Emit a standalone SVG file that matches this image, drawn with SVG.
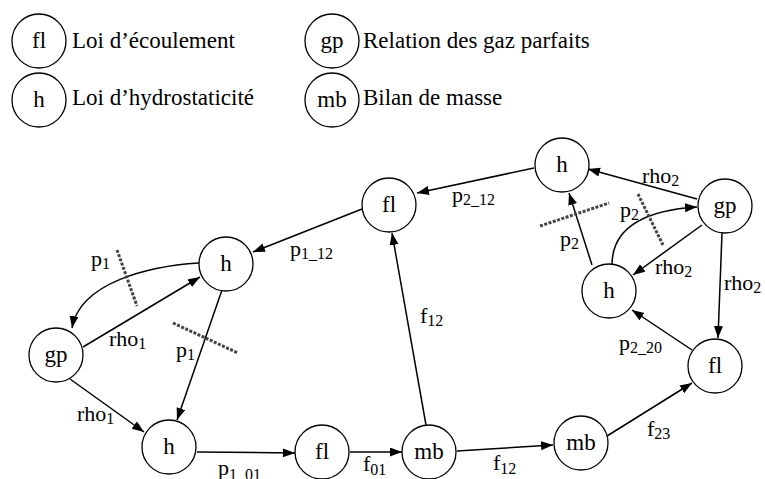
<svg xmlns="http://www.w3.org/2000/svg" width="765" height="479" viewBox="0 0 765 479" font-family="'Liberation Serif', 'Times New Roman', 'DejaVu Serif', serif">
<defs>
<marker id="ah" markerWidth="13" markerHeight="10" refX="12" refY="4.5" orient="auto" markerUnits="userSpaceOnUse"><path d="M0,0 L12,4.5 L0,9 z" fill="#000"/></marker>
<style>
text{font-family:'Liberation Serif','Times New Roman','DejaVu Serif',serif}
.n circle{fill:#fff;stroke:#000;stroke-width:1.3}
.n text{font-size:23px;text-anchor:middle;fill:#000}
.lg{font-size:23px;fill:#000}
.e{stroke:#000;stroke-width:1.5;fill:none;marker-end:url(#ah)}
.d{stroke:#444;stroke-width:3;stroke-dasharray:3 1.5;fill:none}
.l{font-size:22px;fill:#000}
.s{font-size:16px}
</style>
</defs>
<rect width="765" height="479" fill="#fff"/>
<g id="legend">
<g class="n" id="leg-fl"><circle cx="39" cy="41" r="27"/><text x="39" y="48">fl</text></g>
<g class="n" id="leg-h"><circle cx="39" cy="100" r="27"/><text x="39" y="107">h</text></g>
<g class="n" id="leg-gp"><circle cx="332" cy="41" r="27"/><text x="332" y="48">gp</text></g>
<g class="n" id="leg-mb"><circle cx="332" cy="100" r="27"/><text x="332" y="107">mb</text></g>
<text class="lg" x="72" y="48">Loi d’écoulement</text>
<text class="lg" x="72" y="105">Loi d’hydrostaticité</text>
<text class="lg" x="363" y="48">Relation des gaz parfaits</text>
<text class="lg" x="363" y="105">Bilan de masse</text>
</g>
<g id="connectors">
<line class="e" x1="534" y1="168" x2="417" y2="193"/>
<line class="e" x1="697" y1="199" x2="588" y2="169"/>
<line class="e" x1="702" y1="225" x2="633" y2="275"/>
<path class="e" d="M612,265 C612,225 650,210 697,207"/>
<line class="e" x1="592" y1="265" x2="569" y2="193"/>
<line class="e" x1="722" y1="233" x2="718" y2="338"/>
<line class="e" x1="692" y1="350" x2="632" y2="310"/>
<line class="e" x1="607" y1="436" x2="692" y2="383"/>
<line class="e" x1="457" y1="451" x2="553" y2="445"/>
<line class="e" x1="350" y1="452" x2="402" y2="452"/>
<line class="e" x1="197" y1="452" x2="295" y2="453"/>
<line class="e" x1="222" y1="290" x2="177" y2="420"/>
<line class="e" x1="70" y1="379" x2="144" y2="432"/>
<line class="e" x1="83" y1="347" x2="200" y2="277"/>
<path class="e" d="M199,263 C150,266 80,282 72,328"/>
<line class="e" x1="362" y1="209" x2="253" y2="252"/>
<line class="e" x1="426" y1="425" x2="392" y2="233"/>
<line class="d" x1="117" y1="250" x2="137" y2="306"/>
<line class="d" x1="173" y1="323" x2="238" y2="353"/>
<line class="d" x1="540" y1="226" x2="609" y2="203"/>
<line class="d" x1="638" y1="194" x2="663" y2="245"/>
<text class="l" x="452" y="202">p<tspan class="s" dy="3">2_12</tspan></text>
<text class="l" x="290" y="256">p<tspan class="s" dy="3">1_12</tspan></text>
<text class="l" x="642" y="183">rho<tspan class="s" dy="3">2</tspan></text>
<text class="l" x="560" y="246">p<tspan class="s" dy="3">2</tspan></text>
<text class="l" x="620" y="217">p<tspan class="s" dy="3">2</tspan></text>
<text class="l" x="655" y="274">rho<tspan class="s" dy="3">2</tspan></text>
<text class="l" x="724" y="290">rho<tspan class="s" dy="3">2</tspan></text>
<text class="l" x="619" y="350">p<tspan class="s" dy="3">2_20</tspan></text>
<text class="l" x="647" y="436">f<tspan class="s" dy="3">23</tspan></text>
<text class="l" x="493" y="470">f<tspan class="s" dy="4">12</tspan></text>
<text class="l" x="363" y="471">f<tspan class="s" dy="4">01</tspan></text>
<text class="l" x="420" y="323">f<tspan class="s" dy="3">12</tspan></text>
<text class="l" x="218" y="475">p<tspan class="s" dy="5">1_01</tspan></text>
<text class="l" x="176" y="357">p<tspan class="s" dy="3">1</tspan></text>
<text class="l" x="109" y="346">rho<tspan class="s" dy="3">1</tspan></text>
<text class="l" x="77" y="421">rho<tspan class="s" dy="3">1</tspan></text>
<text class="l" x="91" y="266">p<tspan class="s" dy="3">1</tspan></text>
</g>
<g class="n" id="h_top"><circle cx="562" cy="165" r="27"/><text x="562" y="172">h</text></g>
<g class="n" id="fl_top"><circle cx="389" cy="205" r="27"/><text x="389" y="212">fl</text></g>
<g class="n" id="gp_right"><circle cx="725" cy="206" r="27"/><text x="725" y="213">gp</text></g>
<g class="n" id="h_lt"><circle cx="226" cy="264" r="27"/><text x="226" y="271">h</text></g>
<g class="n" id="h_right"><circle cx="609" cy="291" r="27"/><text x="609" y="298">h</text></g>
<g class="n" id="gp_left"><circle cx="56" cy="355" r="27"/><text x="56" y="362">gp</text></g>
<g class="n" id="fl_right"><circle cx="715" cy="366" r="27"/><text x="715" y="373">fl</text></g>
<g class="n" id="h_bottom"><circle cx="169" cy="447" r="27"/><text x="169" y="454">h</text></g>
<g class="n" id="fl_bottom"><circle cx="322" cy="452" r="27"/><text x="322" y="459">fl</text></g>
<g class="n" id="mb_mid"><circle cx="429" cy="452" r="27"/><text x="429" y="459">mb</text></g>
<g class="n" id="mb_right"><circle cx="581" cy="443" r="27"/><text x="581" y="450">mb</text></g>
</svg>
